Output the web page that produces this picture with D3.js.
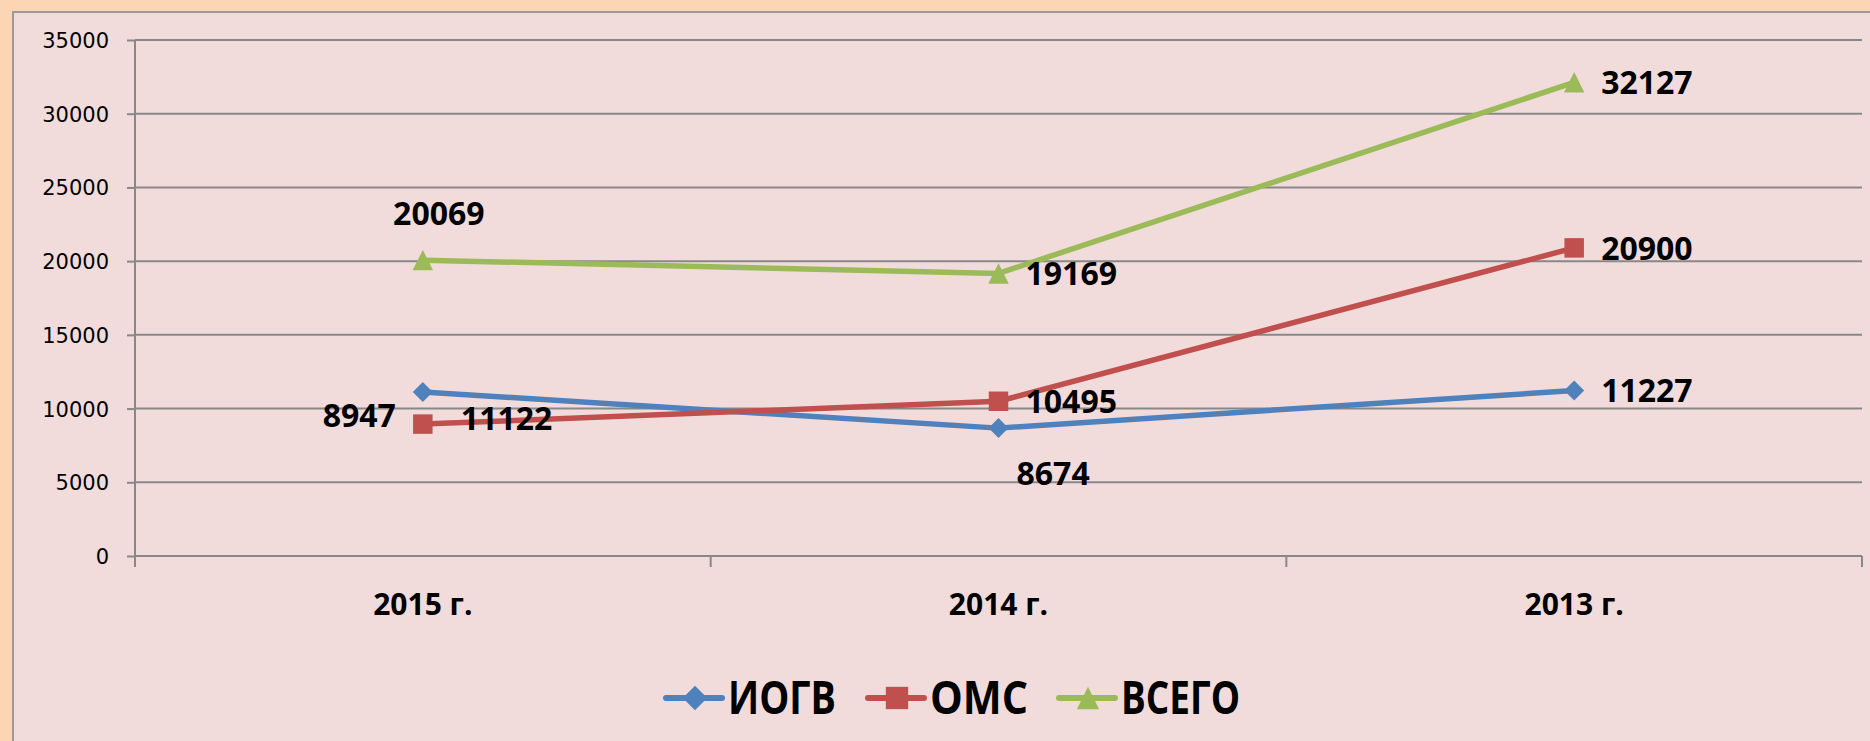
<!DOCTYPE html>
<html>
<head>
<meta charset="utf-8">
<script src="https://cdn.jsdelivr.net/npm/d3@7"></script>
<style>
  body { margin: 0; background: #FCD5B4; }
  svg { display: block; }
</style>
</head>
<body>
<div id="chart-area"></div>
<script>
// Data
let years = ['2015 г.', '2014 г.', '2013 г.']
let seriesNames = ['ИОГВ', 'ОМС', 'ВСЕГО']
let iogv = [11122, 8674, 11227]
let oms = [8947, 10495, 20900]
let vsego = [20069, 19169, 32127]
let yTicks = [0, 5000, 10000, 15000, 20000, 25000, 30000, 35000]

// Label placement (manual, as in the original) : dx, dy from point, anchor
let labelPos = [
  [[38, 38, 'start'], [18, 57, 'start'], [27, 12, 'start']],
  [[-27, 3, 'end'], [27, 12, 'start'], [27, 12, 'start']],
  [[16, -35, 'middle'], [27, 12, 'start'], [27, 12, 'start']]
]

let colors = ['#4F81BD', '#C0504D', '#9BBB59']

// Excel-like markers
let diamond = {
  draw(ctx, size) {
    let r = Math.sqrt(size) / 2
    ctx.moveTo(0, -r); ctx.lineTo(r, 0); ctx.lineTo(0, r); ctx.lineTo(-r, 0); ctx.closePath()
  }
}
let triangle = {
  draw(ctx, size) {
    let h = Math.sqrt(size) / 2
    ctx.moveTo(0, -h); ctx.lineTo(h, h); ctx.lineTo(-h, h); ctx.closePath()
  }
}
let shapes = [diamond, d3.symbolSquare, triangle]
let sizes = [400, 380, 420]
let values = [iogv, oms, vsego]

let W = 1870, H = 741
let margin = { left: 135, right: 8, top: 40, bottom: 185 }

let svg = d3.select('#chart-area').append('svg')
  .attr('width', W)
  .attr('height', H)

svg.append('rect')
  .attr('width', W).attr('height', H)
  .attr('fill', '#FCD5B4')

svg.append('rect')
  .attr('x', 13).attr('y', 12)
  .attr('width', W).attr('height', H)
  .attr('fill', '#F2DCDB')
  .attr('stroke', '#9a9a9a')
  .attr('stroke-width', 2)

// Scales
let x = d3.scaleBand().domain(years).range([margin.left, W - margin.right])
let y = d3.scaleLinear().domain([0, 35000]).range([H - margin.bottom, margin.top])
let cx = (i) => x(years[i]) + x.bandwidth() / 2

// y axis ticks
let yAxis = svg.append('g')
  .attr('transform', 'translate(' + margin.left + ',0)')
  .call(d3.axisLeft(y).tickValues(yTicks).tickSize(8).tickFormat(d3.format('d')))
yAxis.select('.domain').remove()
yAxis.selectAll('line').attr('stroke', '#888').attr('stroke-width', 2)
yAxis.selectAll('text')
  .attr('x', -26)
  .attr('dy', '0.36em')
  .style('font-family', 'DejaVu Sans')
  .style('font-size', '21px')
  .attr('fill', '#000')

// Gridlines
svg.append('g').selectAll('line')
  .data(yTicks)
  .join('line')
  .attr('x1', margin.left).attr('x2', W - margin.right)
  .attr('y1', (d) => y(d)).attr('y2', (d) => y(d))
  .attr('stroke', '#888')
  .attr('stroke-width', 2)

svg.append('line')
  .attr('x1', margin.left).attr('x2', margin.left)
  .attr('y1', margin.top).attr('y2', y(0) + 11)
  .attr('stroke', '#888')
  .attr('stroke-width', 2)

// Category axis
let xAxis = svg.append('g')
  .attr('transform', 'translate(0,' + y(0) + ')')
xAxis.selectAll('line')
  .data(years.map((d) => x(d)).concat([W - margin.right]))
  .join('line')
  .attr('x1', (d) => d).attr('x2', (d) => d)
  .attr('y1', 0).attr('y2', 11)
  .attr('stroke', '#888')
  .attr('stroke-width', 2)
xAxis.selectAll('text')
  .data(years)
  .join('text')
  .attr('x', (d, i) => cx(i))
  .attr('y', 59)
  .attr('text-anchor', 'middle')
  .style('font-family', 'Open Sans')
  .style('font-weight', 'bold')
  .style('font-size', '30px')
  .text((d) => d)

// Lines
let line = d3.line()
  .x((d, i) => cx(i))
  .y((d) => y(d))

values.forEach((vals, s) => {
  svg.append('path')
    .attr('d', line(vals))
    .attr('fill', 'none')
    .attr('stroke', colors[s])
    .attr('stroke-width', 5.5)
    .attr('stroke-linejoin', 'round')
})

// Markers
values.forEach((vals, s) => {
  svg.append('g').selectAll('path')
    .data(vals)
    .join('path')
    .attr('transform', (d, i) => 'translate(' + cx(i) + ',' + y(d) + ')')
    .attr('d', d3.symbol().type(shapes[s]).size(sizes[s]))
    .attr('fill', colors[s])
})

// Data labels
values.forEach((vals, s) => {
  svg.append('g').selectAll('text')
    .data(vals)
    .join('text')
    .attr('x', (d, i) => cx(i) + labelPos[s][i][0])
    .attr('y', (d, i) => y(d) + labelPos[s][i][1])
    .attr('text-anchor', (d, i) => labelPos[s][i][2])
    .style('font-family', 'Open Sans')
    .style('font-weight', 'bold')
    .style('font-size', '32px')
    .text((d) => d)
})

// Legend
let legendX = [666, 868, 1059]
let legendW = [108, 98, 119]
let legend = svg.append('g').attr('transform', 'translate(0,698)')
seriesNames.forEach((name, s) => {
  let g = legend.append('g').attr('transform', 'translate(' + legendX[s] + ',0)')
  g.append('line')
    .attr('x1', 0).attr('x2', 56)
    .attr('stroke', colors[s])
    .attr('stroke-width', 6)
    .attr('stroke-linecap', 'round')
  g.append('path')
    .attr('transform', 'translate(29,0)')
    .attr('d', d3.symbol().type(shapes[s]).size(s == 0 ? 600 : 500))
    .attr('fill', colors[s])
  g.append('text')
    .attr('x', 62)
    .attr('y', 16)
    .attr('textLength', legendW[s])
    .attr('lengthAdjust', 'spacingAndGlyphs')
    .style('font-family', 'Open Sans')
    .style('font-weight', 'bold')
    .style('font-size', '47px')
    .text(name)
})
</script>
</body>
</html>
